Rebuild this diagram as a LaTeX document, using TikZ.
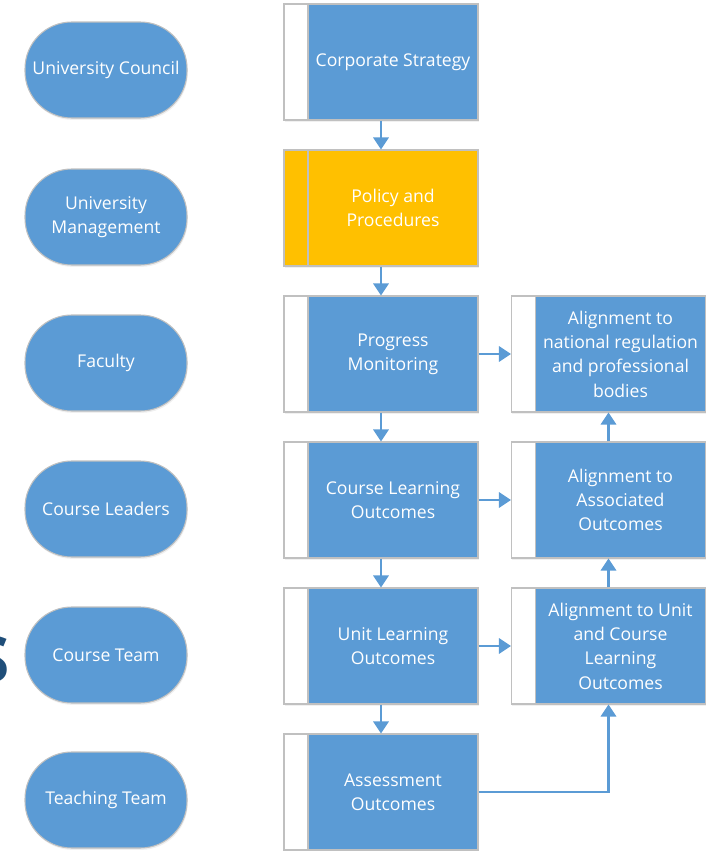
\documentclass[tikz,border=0pt]{standalone}
\usepackage{fontspec}
\setmainfont{Open Sans}
\usetikzlibrary{arrows.meta,shadows,calc}
\definecolor{boxblue}{HTML}{5B9BD5}
\definecolor{boxgold}{HTML}{FFC000}
\definecolor{edgegray}{HTML}{C0C0C0}
\definecolor{titlenavy}{HTML}{1F4E79}

\begin{document}
\begin{tikzpicture}[x=0.75pt,y=-0.75pt,
  softshadow/.style={drop shadow={opacity=0.12,shadow xshift=0.6pt,shadow yshift=-1.4pt}},
  panel/.style={rectangle,draw=edgegray,line width=0.8pt,fill=white,
    minimum width=145.5pt,minimum height=87pt,inner sep=0pt,softshadow},
  face/.style={rectangle,draw=edgegray,line width=0.8pt,fill=boxblue,
    minimum width=127.5pt,minimum height=87pt,inner sep=1pt,align=center,
    text=white,font=\fontsize{13.2}{18.2}\selectfont},
  pill/.style={rectangle,rounded corners=35pt,draw=edgegray,line width=0.8pt,
    fill=boxblue,minimum width=121.5pt,minimum height=72pt,align=center,
    text=white,font=\fontsize{13.2}{18.2}\selectfont,softshadow},
  flow/.style={draw=boxblue,line width=1.6pt,-{Triangle[width=11.5pt,length=9pt]}}
]
\useasboundingbox (0,0) rectangle (718,851);

% cropped heading letter on the left margin
\node[anchor=east,inner sep=0pt,text=titlenavy,
  font=\fontsize{48}{48}\selectfont\bfseries] (edge) at (10,660) {S};

% organisational levels
\node[pill] (uc) at (106,70)  {University Council};
\node[pill] (um) at (106,217) {University\\Management};
\node[pill] (fa) at (106,363) {Faculty};
\node[pill] (cl) at (106,509) {Course Leaders};
\node[pill] (ct) at (106,655) {Course Team};
\node[pill] (tt) at (106,800) {Teaching Team};

% main process column
\node[panel] (csO) at (381,62)  {};
\node[face]  (cs)  at (393,62)  {Corporate Strategy};
\node[panel,fill=boxgold] (ppO) at (381,208) {};
\node[face,fill=boxgold]  (pp)  at (393,208) {Policy and\\Procedures};
\node[panel] (pmO) at (381,354) {};
\node[face]  (pm)  at (393,354) {Progress\\Monitoring};
\node[panel] (cloO) at (381,500) {};
\node[face]  (clo)  at (393,500) {Course Learning\\Outcomes};
\node[panel] (uloO) at (381,646) {};
\node[face]  (ulo)  at (393,646) {Unit Learning\\Outcomes};
\node[panel] (aoO) at (381,792) {};
\node[face]  (ao)  at (393,792) {Assessment\\Outcomes};

% alignment column
\node[panel] (anO) at (608.5,354) {};
\node[face]  (an)  at (620.5,354) {Alignment to\\national regulation\\and professional\\bodies};
\node[panel] (aaO) at (608.5,500) {};
\node[face]  (aa)  at (620.5,500) {Alignment to\\Associated\\Outcomes};
\node[panel] (auO) at (608.5,646) {};
\node[face]  (au)  at (620.5,646) {Alignment to Unit\\and Course\\Learning\\Outcomes};

% connectors
\draw[flow] (csO.south) -- (ppO.north);
\draw[flow] (ppO.south) -- (pmO.north);
\draw[flow] (pmO.south) -- (cloO.north);
\draw[flow] (cloO.south) -- (uloO.north);
\draw[flow] (uloO.south) -- (aoO.north);
\draw[flow] (pmO.east) -- (anO.west);
\draw[flow] (cloO.east) -- (aaO.west);
\draw[flow] (uloO.east) -- (auO.west);
\draw[flow] (aaO.north) -- (anO.south);
\draw[flow] (auO.north) -- (aaO.south);
\draw[flow] (aoO.east) -| (auO.south);
\end{tikzpicture}
\end{document}
